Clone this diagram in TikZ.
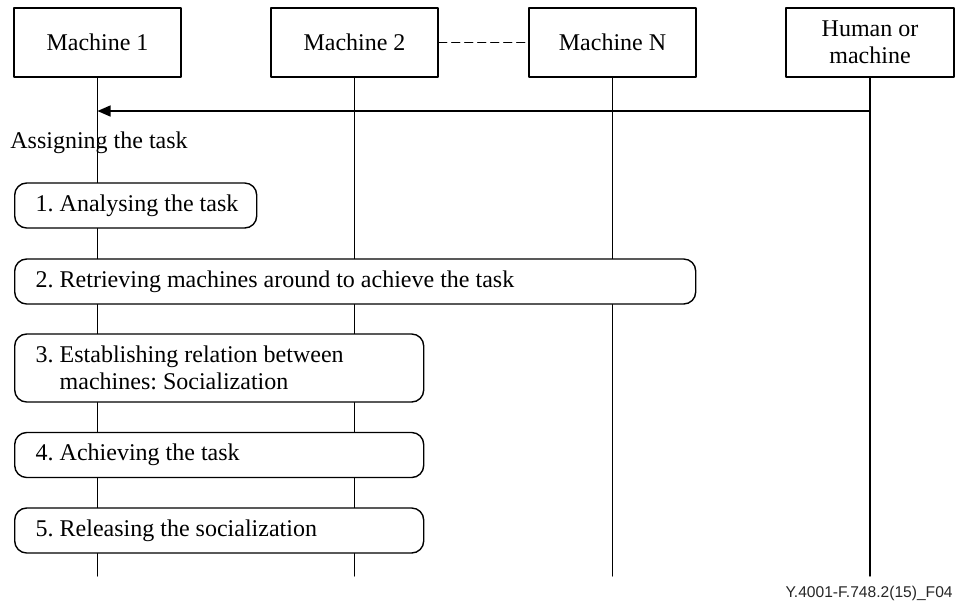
\documentclass[tikz,border=0pt]{standalone}
\usepackage{fontspec}
\setmainfont{Liberation Serif}
\setsansfont{Liberation Sans}
\usetikzlibrary{arrows.meta}

\begin{document}
\frenchspacing
\begin{tikzpicture}[x=0.5pt, y=-0.5pt, line cap=round, line join=round,
  font=\fontsize{12}{13.5}\selectfont,
  actor/.style={draw, line width=0.7pt, minimum width=83.5pt, minimum height=34.5pt, inner sep=0pt, align=center},
  stepbox/.style={draw, line width=0.7pt, rounded corners=6pt, fill=white, anchor=west, align=flush left, inner xsep=10.5pt, inner ysep=0pt, minimum height=22.5pt},
  lifeline/.style={line width=0.7pt}]

\useasboundingbox (0,0) rectangle (955,602);

% Machines
\node[actor] (m1) at (97.5,42.5) {Machine 1};
\node[actor] (m2) at (354.5,42.5) {Machine 2};
\node[actor] (mn) at (612.5,42.5) {Machine N};
\node[actor, minimum width=84pt] (hm) at (870,42.5) {Human or\\machine};
\draw[lifeline, dashed, dash pattern=on 4pt off 2.5pt] (m2.east) -- (mn.west);

% Lifelines
\coordinate (bottom) at (0,576);
\foreach \m in {m1,m2,mn,hm}
  \draw[lifeline] (\m.south) -- (\m.south |- bottom);

% Assigning the task
\coordinate (assign) at (0,111);
\draw[lifeline, -{Triangle[length=6.5pt, width=5.5pt]}] (hm |- assign) -- (m1 |- assign);
\node[anchor=base west, inner sep=0pt] (assigntxt) at (10,148) {Assigning the task};

% Steps
\node[stepbox, text width=100pt] (s1) at (14,205.5) {\mbox{1. Analysing the task}};
\node[stepbox, text width=319.5pt] (s2) at (14,281.5) {2. Retrieving machines around to achieve the task};
\node[stepbox, text width=183.5pt, minimum height=34pt] (s3) at (14,368) {3. Establishing relation between\\\phantom{3. }machines: Socialization};
\node[stepbox, text width=183.5pt] (s4) at (14,455) {4. Achieving the task};
\node[stepbox, text width=183.5pt] (s5) at (14,530.5) {5. Releasing the socialization};

% Figure label
\node[anchor=base east, inner sep=0pt, font=\sffamily\fontsize{7.8}{9}\selectfont, black!85] (figlabel) at (953,597) {Y.4001-F.748.2(15)\_F04};

\end{tikzpicture}
\end{document}
